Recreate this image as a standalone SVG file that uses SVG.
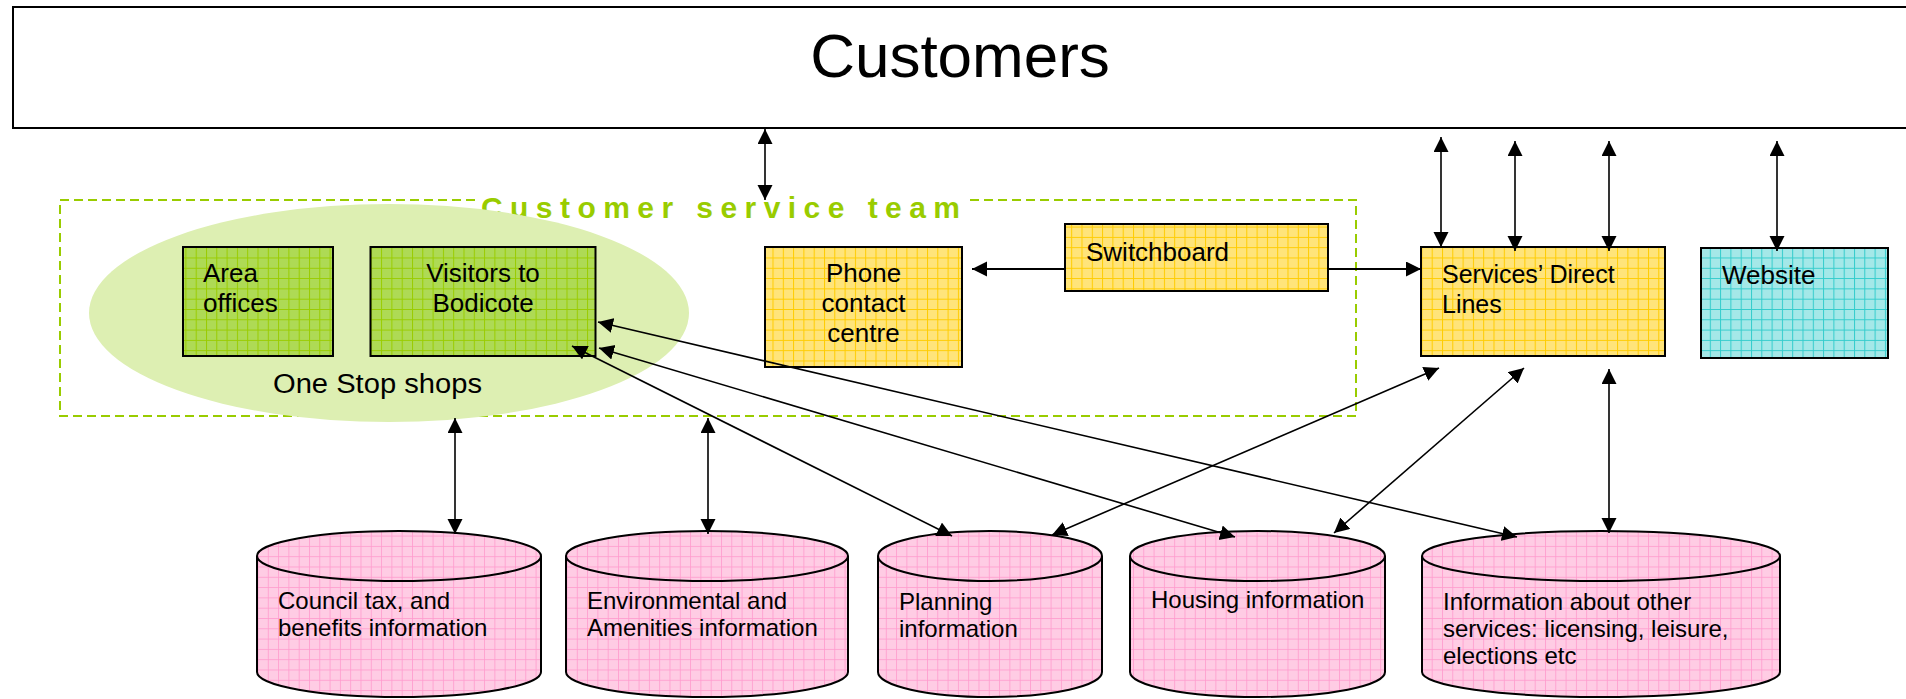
<svg xmlns="http://www.w3.org/2000/svg" width="1906" height="699" viewBox="0 0 1906 699">
  <style>
    .txt { font-family: "Liberation Sans", Arial, sans-serif; fill: #000; }
    .box { stroke: #000; stroke-width: 2; }
    .cyl { fill: url(#gridPink); stroke: #000; stroke-width: 2; }
    .cylrim { fill: none; stroke: #000; stroke-width: 2; }
    .link { fill: none; stroke: #000; stroke-width: 1.6; marker-start: url(#head); marker-end: url(#head); }
    .oneway { fill: none; stroke: #000; stroke-width: 1.8; marker-end: url(#head); }
  </style>
  <defs>
    <marker id="head" markerUnits="userSpaceOnUse" markerWidth="16" markerHeight="16" refX="15" refY="7.5" orient="auto-start-reverse">
      <path d="M0,0 L15,7.5 L0,15 Z" fill="#000"/>
    </marker>
    <pattern id="gridGreen" width="10.3" height="10.3" patternUnits="userSpaceOnUse">
      <rect width="10.3" height="10.3" fill="#AEDA55"/>
      <path d="M0 0.5H10.3M0.5 0V10.3" stroke="#99CC00" stroke-width="1"/>
    </pattern>
    <pattern id="gridYellow" width="10.3" height="10.3" patternUnits="userSpaceOnUse">
      <rect width="10.3" height="10.3" fill="#FFE47A"/>
      <path d="M0 0.5H10.3M0.5 0V10.3" stroke="#FFCC00" stroke-width="1"/>
    </pattern>
    <pattern id="gridCyan" width="10.3" height="10.3" patternUnits="userSpaceOnUse">
      <rect width="10.3" height="10.3" fill="#A4E8E8"/>
      <path d="M0 0.5H10.3M0.5 0V10.3" stroke="#33CCCC" stroke-width="1"/>
    </pattern>
    <pattern id="gridPink" width="10.3" height="10.3" patternUnits="userSpaceOnUse">
      <rect width="10.3" height="10.3" fill="#FFCCE4"/>
      <path d="M0 0.5H10.3M0.5 0V10.3" stroke="#FF99CC" stroke-width="0.8"/>
    </pattern>
  </defs>

  <rect width="1906" height="699" fill="#FFFFFF"/>

  <!-- Customers banner -->
  <g id="customers">
    <rect x="13" y="7" width="1900" height="121" fill="#FFFFFF" class="box"/>
    <text x="960" y="77" class="txt" font-size="62" text-anchor="middle">Customers</text>
  </g>

  <!-- Customer service team boundary -->
  <g id="customer-service-team">
    <rect x="60" y="200" width="1296" height="216" fill="none" stroke="#99CC00" stroke-width="2" stroke-dasharray="9 5"/>
    <rect x="477" y="195" width="488" height="9" fill="#FFFFFF"/>
    <text x="481" y="218" font-family="'Liberation Sans', Arial, sans-serif" font-weight="bold" font-size="30" fill="#99CC00" textLength="479" lengthAdjust="spacing">Customer service team</text>
  </g>

  <!-- One Stop shops -->
  <g id="one-stop-shops">
    <ellipse cx="389" cy="313" rx="300" ry="109" fill="#DDEFB2"/>
    <text x="377.5" y="393" class="txt" font-size="27" text-anchor="middle" textLength="209" lengthAdjust="spacingAndGlyphs">One Stop shops</text>
  </g>

  <g id="area-offices">
    <rect x="183" y="247" width="150" height="109" fill="url(#gridGreen)" class="box"/>
    <text class="txt" font-size="26"><tspan x="203" y="282">Area</tspan><tspan x="203" y="312">offices</tspan></text>
  </g>

  <g id="visitors-bodicote">
    <rect x="370.5" y="247" width="225" height="109" fill="url(#gridGreen)" class="box"/>
    <text class="txt" font-size="26" text-anchor="middle"><tspan x="483" y="282">Visitors to</tspan><tspan x="483" y="312">Bodicote</tspan></text>
  </g>

  <g id="phone-contact-centre">
    <rect x="765" y="247" width="197" height="120" fill="url(#gridYellow)" class="box"/>
    <text class="txt" font-size="26" text-anchor="middle"><tspan x="863.5" y="282">Phone</tspan><tspan x="863.5" y="312">contact</tspan><tspan x="863.5" y="342">centre</tspan></text>
  </g>

  <g id="switchboard">
    <rect x="1065" y="224" width="263" height="67" fill="url(#gridYellow)" class="box"/>
    <text x="1086" y="261" class="txt" font-size="26">Switchboard</text>
  </g>

  <g id="services-direct-lines">
    <rect x="1421" y="247" width="244" height="109" fill="url(#gridYellow)" class="box"/>
    <text class="txt" font-size="25"><tspan x="1442" y="283">Services’ Direct</tspan><tspan x="1442" y="313">Lines</tspan></text>
  </g>

  <g id="website">
    <rect x="1701" y="248" width="187" height="110" fill="url(#gridCyan)" class="box"/>
    <text x="1722" y="284" class="txt" font-size="26">Website</text>
  </g>

  <!-- Information stores -->
  <g id="council-tax">
    <path class="cyl" d="M257 556 V672 A142 25 0 0 0 541 672 V556 A142 25 0 0 0 257 556 Z"/>
    <path class="cylrim" d="M257 556 A142 25 0 0 0 541 556"/>
    <text class="txt" font-size="24"><tspan x="278" y="609">Council tax, and</tspan><tspan x="278" y="636">benefits information</tspan></text>
  </g>

  <g id="environmental">
    <path class="cyl" d="M566 556 V672 A141 25 0 0 0 848 672 V556 A141 25 0 0 0 566 556 Z"/>
    <path class="cylrim" d="M566 556 A141 25 0 0 0 848 556"/>
    <text class="txt" font-size="24"><tspan x="587" y="609">Environmental and</tspan><tspan x="587" y="636">Amenities information</tspan></text>
  </g>

  <g id="planning">
    <path class="cyl" d="M878 556 V672 A112 25 0 0 0 1102 672 V556 A112 25 0 0 0 878 556 Z"/>
    <path class="cylrim" d="M878 556 A112 25 0 0 0 1102 556"/>
    <text class="txt" font-size="24"><tspan x="899" y="610">Planning</tspan><tspan x="899" y="637">information</tspan></text>
  </g>

  <g id="housing">
    <path class="cyl" d="M1130 556 V672 A127.5 25 0 0 0 1385 672 V556 A127.5 25 0 0 0 1130 556 Z"/>
    <path class="cylrim" d="M1130 556 A127.5 25 0 0 0 1385 556"/>
    <text x="1151" y="608" class="txt" font-size="24">Housing information</text>
  </g>

  <g id="other-services">
    <path class="cyl" d="M1422 556 V672 A179 25 0 0 0 1780 672 V556 A179 25 0 0 0 1422 556 Z"/>
    <path class="cylrim" d="M1422 556 A179 25 0 0 0 1780 556"/>
    <text class="txt" font-size="24"><tspan x="1443" y="610">Information about other</tspan><tspan x="1443" y="637">services: licensing, leisure,</tspan><tspan x="1443" y="664">elections etc</tspan></text>
  </g>

  <!-- Connectors -->
  <g id="connectors">
    <line class="link" x1="765" y1="129" x2="765" y2="200" stroke-width="1.2"/>
    <line class="link" x1="1441" y1="137" x2="1441" y2="247"/>
    <line class="link" x1="1515" y1="141" x2="1515" y2="251"/>
    <line class="link" x1="1609" y1="141" x2="1609" y2="251"/>
    <line class="link" x1="1777" y1="141" x2="1777" y2="251"/>
    <line class="oneway" x1="1065" y1="269" x2="972" y2="269"/>
    <line class="oneway" x1="1328" y1="269" x2="1421" y2="269"/>
    <line class="link" x1="455" y1="418" x2="455" y2="534"/>
    <line class="link" x1="708" y1="418" x2="708" y2="534"/>
    <line class="link" x1="572" y1="346" x2="952" y2="536"/>
    <line class="link" x1="599" y1="348" x2="1235" y2="537"/>
    <line class="link" x1="598" y1="322" x2="1517" y2="537"/>
    <line class="link" x1="1439" y1="368" x2="1052" y2="535"/>
    <line class="link" x1="1524" y1="368" x2="1334" y2="533"/>
    <line class="link" x1="1609" y1="369" x2="1609" y2="533"/>
  </g>
</svg>
